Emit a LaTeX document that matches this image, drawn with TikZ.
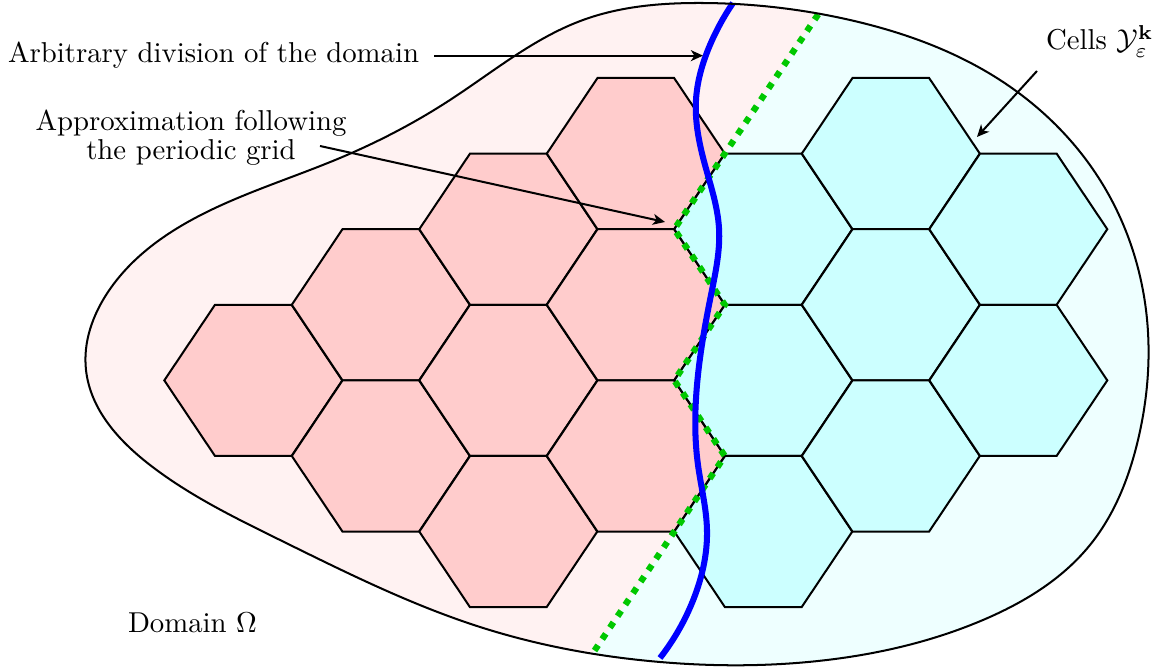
\documentclass[tikz,border=0pt]{standalone}
\usetikzlibrary{arrows.meta,calc,hobby}
\definecolor{gridgreen}{RGB}{0,200,0}
\definecolor{lightpink}{RGB}{255,242,242}
\definecolor{lightcyan}{RGB}{238,255,255}
\definecolor{cellpink}{RGB}{255,204,204}
\definecolor{cellcyan}{RGB}{204,255,255}
\newcommand\hexc[3]{\filldraw[#3] ({#1+89},{#2}) -- ({#1+38.3},{#2+75.6}) -- ({#1-38.3},{#2+75.6}) -- ({#1-89},{#2}) -- ({#1-38.3},{#2-75.6}) -- ({#1+38.3},{#2-75.6}) -- cycle;}
\begin{document}
\begin{tikzpicture}[x=0.3478pt,y=-0.3478pt,line width=0.7pt,
  hexpink/.style={fill=cellpink,draw=black},
  hexcyan/.style={fill=cellcyan,draw=black},
  arr/.style={-{Stealth[length=4.2pt,width=3.8pt,inset=1.2pt]},line width=0.7pt},
  lbl/.style={inner sep=0pt,anchor=base west},
  divline/.style={gridgreen,line width=2.2pt,dash pattern=on 2.2pt off 2.6pt},
  wavy/.style={blue,line width=2.1pt}]
\useasboundingbox (0,0) rectangle (1159,672);
\def\blob{plot[closed hobby] coordinates {(700,3) (850,20) (1000,80) (1100,180) (1146,310) (1138,440) (1090,545) (983,620) (827,660) (660,662) (480,627) (280,540) (150,465) (86,370) (108,292) (233,200) (340,158) (450,100) (583,20)}}
% domain background
\fill[lightcyan] \blob;
\begin{scope}
  \clip \blob;
  \fill[lightpink] (-10,-20) -- (841.2,-20) -- (724.8,153.6) -- (674.3,229.2) -- (724.8,304.8) -- (674.3,380.4) -- (724.8,456) -- (674.3,531.6) -- (561.4,700) -- (-10,700) -- cycle;
\end{scope}
% pink cells
\hexc{253.3}{380.4}{hexpink}
\hexc{380.8}{304.8}{hexpink}
\hexc{380.8}{456}{hexpink}
\hexc{508.3}{229.2}{hexpink}
\hexc{508.3}{380.4}{hexpink}
\hexc{508.3}{531.6}{hexpink}
\hexc{635.8}{153.6}{hexpink}
\hexc{635.8}{304.8}{hexpink}
\hexc{635.8}{456}{hexpink}
% cyan cells
\hexc{763.3}{229.2}{hexcyan}
\hexc{763.3}{380.4}{hexcyan}
\hexc{763.3}{531.6}{hexcyan}
\hexc{890.8}{153.6}{hexcyan}
\hexc{890.8}{304.8}{hexcyan}
\hexc{890.8}{456}{hexcyan}
\hexc{1018.3}{229.2}{hexcyan}
\hexc{1018.3}{380.4}{hexcyan}
% approximation following the grid
\begin{scope}
  \clip \blob;
  \draw[divline] (841.2,-20) -- (724.8,153.6) -- (674.3,229.2) -- (724.8,304.8) -- (674.3,380.4) -- (724.8,456) -- (674.3,531.6) -- (561.4,700);
\end{scope}
% arbitrary division
\draw[wavy] plot[hobby] coordinates {(733,3) (710,45) (696,100) (705,165) (719,228) (711,295) (697,385) (698,465) (707,530) (694,598) (660,658)};
% domain outline
\draw[black,line width=0.7pt] \blob;
% labels
\node[lbl] (arb) at (7,63) {Arbitrary division of the domain};
\coordinate (arbT) at (703,55);
\draw[arr,shorten <=4.9pt] (arb.east) -- (arb.east -| arbT);
\node[inner sep=0pt,align=center,font=\fontsize{10pt}{10.2pt}\selectfont] (appr) at (191,138) {Approximation following\\the periodic grid};
\coordinate (apS) at (320,146);
\coordinate (apT) at (665,222);
\draw[arr] (apS) -- (apT);
\node[lbl] (cells) at (1045,50) {Cells $\mathcal{Y}_{\varepsilon}^{\mathbf{k}}$};
\coordinate (ceS) at (1037,71);
\coordinate (ceT) at (977,137);
\draw[arr] (ceS) -- (ceT);
\node[lbl] (dom) at (127,633) {Domain $\Omega$};
\end{tikzpicture}
\end{document}
